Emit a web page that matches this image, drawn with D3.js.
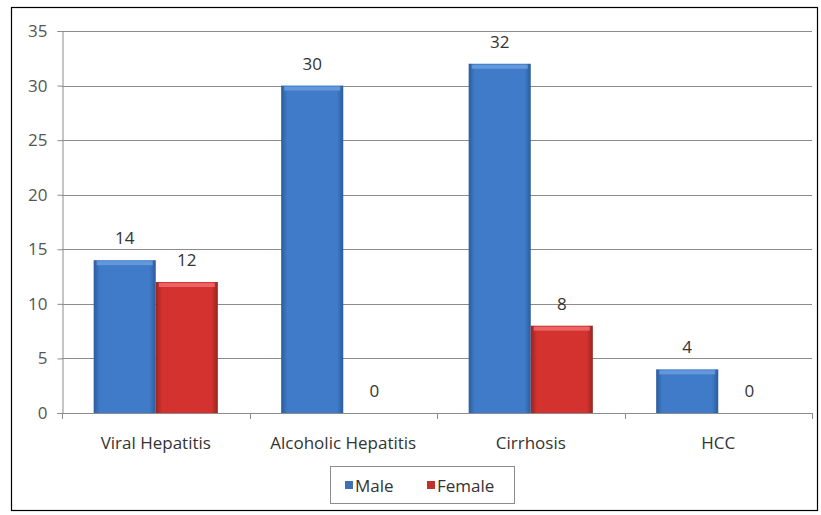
<!DOCTYPE html>
<html><head><meta charset="utf-8">
<script src="https://cdn.jsdelivr.net/npm/d3@7"></script>
<style>body{margin:0;background:#fff}svg{display:block}</style>
</head><body>
<script>
const categories = ["Viral Hepatitis","Alcoholic Hepatitis","Cirrhosis","HCC"];
const seriesNames = ["Male","Female"];
const maleValues = [14,30,32,4];
const femaleValues = [12,0,8,0];
const yTicks = [0,5,10,15,20,25,30,35];

const W=821,H=515;
const svg=d3.select("body").append("svg").attr("width",W).attr("height",H);
const font="'Open Sans', 'Noto Sans', sans-serif";
const FS=17;
const defs=svg.append("defs");
function grad(id,edge,mid){
  const g=defs.append("linearGradient").attr("id",id).attr("x1","0").attr("x2","1").attr("y1","0").attr("y2","0");
  g.append("stop").attr("offset","0%").attr("stop-color",edge);
  g.append("stop").attr("offset","10%").attr("stop-color",mid);
  g.append("stop").attr("offset","90%").attr("stop-color",mid);
  g.append("stop").attr("offset","100%").attr("stop-color",edge);
}
grad("gBlue","#2c5c9c","#3f7bc8");
grad("gRed","#962622","#d3322e");
const colors={Male:"url(#gBlue)",Female:"url(#gRed)"};
const tops={Male:"#6da0e0",Female:"#f07070"};
const legendColors={Male:"#3f6fb5",Female:"#c0302c"};

svg.append("rect").attr("x",11.5).attr("y",7.5).attr("width",806).attr("height",503)
  .attr("fill","#fff").attr("stroke","#000").attr("stroke-width",1.2);

const x0=62,x1=812,yTop=31,yBot=413;
const x=d3.scaleBand().domain(categories).range([x0,x1]).paddingInner(0).paddingOuter(0);
const xs=d3.scaleBand().domain(seriesNames).range([0,x.bandwidth()]).paddingInner(0).paddingOuter(0.51);
const y=d3.scaleLinear().domain([0,35]).range([yBot,yTop]);

// gridlines
svg.append("g").selectAll("line").data(yTicks.filter(d=>d>0)).join("line")
  .attr("x1",x0).attr("x2",x1).attr("y1",d=>Math.round(y(d))+0.5).attr("y2",d=>Math.round(y(d))+0.5)
  .attr("stroke","#8c8c8c").attr("stroke-width",1);

// y axis
const ya=svg.append("g").attr("transform",`translate(${x0+0.5},0)`)
  .call(d3.axisLeft(y).tickValues(yTicks).tickSize(5).tickPadding(10));
ya.select(".domain").attr("stroke","#8c8c8c");
ya.selectAll(".tick line").attr("stroke","#8c8c8c");
ya.selectAll("text").attr("font-family",font).attr("font-size",FS).attr("fill","#555");

// x axis
const xa=svg.append("g").attr("transform",`translate(0,${Math.round(yBot)+0.5})`)
  .call(d3.axisBottom(x).tickSize(0).tickPadding(23));
xa.select(".domain").remove();
xa.selectAll("text").attr("font-family",font).attr("font-size",FS).attr("fill","#333");
svg.append("line").attr("x1",x0).attr("x2",x1).attr("y1",Math.round(yBot)+0.5).attr("y2",Math.round(yBot)+0.5).attr("stroke","#8c8c8c");
svg.append("g").selectAll("line").data(d3.range(categories.length+1)).join("line")
  .attr("x1",i=>Math.round(x0+i*x.bandwidth())+0.5).attr("x2",i=>Math.round(x0+i*x.bandwidth())+0.5)
  .attr("y1",Math.round(yBot)).attr("y2",Math.round(yBot)+6).attr("stroke","#8c8c8c");

// bars
const rows=categories.map((c,i)=>({cat:c,vals:[{s:"Male",v:maleValues[i]},{s:"Female",v:femaleValues[i]}]}));
const g=svg.append("g").selectAll("g").data(rows).join("g").attr("transform",d=>`translate(${x(d.cat)},0)`);
g.selectAll("rect.bar").data(d=>d.vals.filter(v=>v.v>0)).join("rect").attr("class","bar")
  .attr("x",d=>xs(d.s)).attr("width",xs.bandwidth())
  .attr("y",d=>y(d.v)).attr("height",d=>y(0)-y(d.v))
  .attr("fill",d=>colors[d.s]);
g.selectAll("rect.top").data(d=>d.vals.filter(v=>v.v>0)).join("rect").attr("class","top")
  .attr("x",d=>xs(d.s)+3).attr("width",xs.bandwidth()-6)
  .attr("y",d=>y(d.v)+1).attr("height",4)
  .attr("fill",d=>tops[d.s]).attr("opacity",0.8);
g.selectAll("text").data(d=>d.vals).join("text")
  .attr("x",d=>xs(d.s)+xs.bandwidth()/2).attr("y",d=>y(d.v)-16)
  .attr("text-anchor","middle").attr("font-family",font).attr("font-size",FS).attr("fill","#333")
  .text(d=>d.v);

// legend
const lg=svg.append("g");
lg.append("rect").attr("x",330.5).attr("y",466.5).attr("width",184).attr("height",37)
  .attr("fill","#fff").attr("stroke","#8c8c8c");
const items=[{s:"Male",x:345},{s:"Female",x:427}];
items.forEach(it=>{
  lg.append("rect").attr("x",it.x).attr("y",481).attr("width",8).attr("height",8).attr("fill",legendColors[it.s]);
  lg.append("text").attr("x",it.x+10).attr("y",492).attr("font-family",font).attr("font-size",FS).attr("fill","#333").text(it.s);
});
</script>
</body></html>
